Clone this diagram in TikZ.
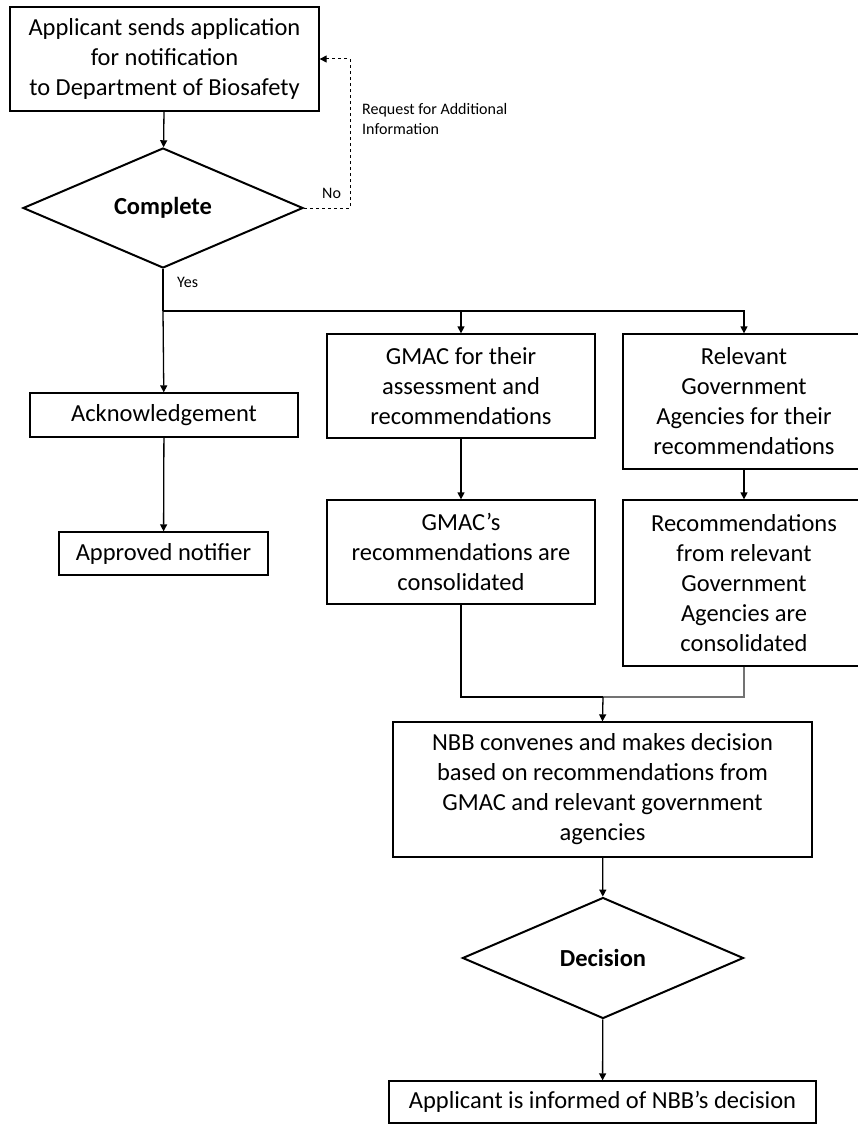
\documentclass[tikz,border=0pt]{standalone}
\usepackage{fontspec}
\setmainfont{Carlito}
\usepackage{tikz}
\usetikzlibrary{shapes.geometric,arrows.meta,positioning,calc}

\begin{document}
\begin{tikzpicture}[x=1pt,y=-1pt,
  every node/.style={font=\fontsize{24.5}{30}\selectfont},
  box/.style={draw,line width=1.3pt,inner sep=0pt,align=center},
  choice/.style={draw,diamond,line width=2pt,inner sep=0pt,font=\fontsize{24.5}{30}\selectfont\bfseries},
  note/.style={font=\fontsize{16}{20}\selectfont,inner sep=0pt,align=left},
  arr/.style={-{Triangle[length=7pt,width=7pt]},line width=1.3pt}]
\useasboundingbox (0,0) rectangle (858,1124);
\node[box,minimum width=309pt,minimum height=104pt] (app) at (164.5,59) {Applicant sends application\\for notification\\to Department of Biosafety};
\node[choice,minimum width=280pt,minimum height=120pt] (chk) at (163,208) {Complete};
\node[box,minimum width=268pt,minimum height=44pt] (ack) at (164,415) {Acknowledgement};
\node[box,minimum width=209pt,minimum height=43pt] (appr) at (163.5,553.5) {Approved notifier};
\node[box,minimum width=268pt,minimum height=104pt] (gmac) at (461,386) {GMAC for their\\assessment and\\recommendations};
\node[box,minimum width=242pt,minimum height=135pt] (agen) at (744,401.5) {Relevant\\Government\\Agencies for their\\recommendations};
\node[box,minimum width=268pt,minimum height=104pt] (gmacc) at (461,552) {GMAC’s\\recommendations are\\consolidated};
\node[box,minimum width=242pt,minimum height=166pt] (agenc) at (744,583) {Recommendations\\from relevant\\Government\\Agencies are\\consolidated};
\node[box,minimum width=419pt,minimum height=135pt] (nbb) at (602.5,789.5) {NBB convenes and makes decision\\based on recommendations from\\GMAC and relevant government\\agencies};
\node[choice,minimum width=281pt,minimum height=121pt] (dec) at (603,958) {Decision};
\node[box,minimum width=427pt,minimum height=42pt] (info) at (602.5,1102) {Applicant is informed of NBB’s decision};
% labels
\node[note,anchor=west] (no) at (322,193) {No};
\node[note,anchor=west] (yes) at (177,282) {Yes};
\node[note,anchor=north west] (req) at (362,103) {Request for Additional\\Information};
% connectors
\coordinate (loop) at (350,208);
\coordinate (split) at (163,311);
\coordinate (join) at (603,697);
\draw[arr] (app) -- (chk);
\draw[arr,dashed,line width=1pt] (chk.east) -- (loop) |- (app.east);
\draw[line width=1.3pt] (chk.south) -- (split);
\draw[arr] (split) -- (ack);
\draw[arr] (split) -| (gmac.north);
\draw[arr] (split) -| (agen.north);
\draw[arr] (ack) -- (appr);
\draw[arr] (gmac) -- (gmacc);
\draw[arr] (agen) -- (agenc);
\draw[line width=1.3pt] (gmacc.south) |- (join);
\draw[line width=1.3pt,draw=black!55] (agenc.south) |- (join);
\draw[arr] (join) -- (nbb.north);
\draw[arr] (nbb) -- (dec);
\draw[arr] (dec) -- (info);
\end{tikzpicture}
\end{document}
